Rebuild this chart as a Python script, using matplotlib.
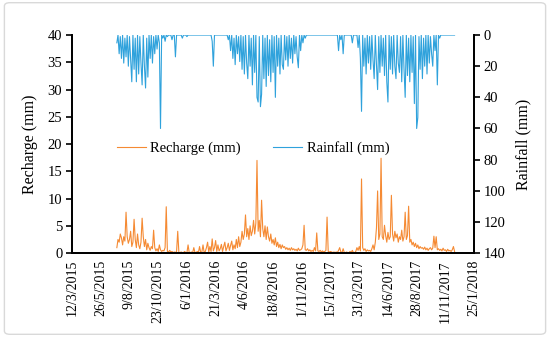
import matplotlib
matplotlib.use("Agg")
import matplotlib.pyplot as plt
from matplotlib.patches import FancyBboxPatch
import pandas as pd

# ---- data (3-day sampling from 7/7/2015) ----
series_start = "2015-07-07"
series_step_days = 3

rainfall = [
    5, 0, 12, 1, 15, 0, 18, 2, 14, 0,
    20, 1, 16, 30, 0, 22, 2, 30, 0, 25,
    1, 18, 32, 0, 20, 34, 2, 27, 0, 15,
    0, 18, 1, 12, 0, 9, 0, 5, 60, 0,
    2, 0, 4, 0, 1, 0, 0, 0, 3, 0,
    0, 14, 0, 0, 0, 0, 0, 2, 0, 0,
    0, 1, 0, 0, 0, 0, 0, 0, 0, 0,
    0, 0, 0, 0, 0, 0, 0, 0, 0, 0,
    0, 0, 0, 4, 20, 0, 0, 0, 0, 0,
    0, 0, 0, 0, 0, 0, 0, 3, 0, 10,
    0, 15, 2, 19, 0, 12, 1, 17, 0, 22,
    1, 25, 0, 18, 28, 0, 20, 2, 32, 0,
    24, 0, 40, 43, 1, 46, 38, 0, 28, 2,
    33, 0, 26, 3, 30, 0, 24, 1, 40, 0,
    20, 2, 25, 0, 19, 22, 0, 16, 1, 20,
    0, 15, 2, 18, 0, 12, 1, 14, 21, 0,
    10, 0, 5, 0, 2, 0, 0, 0, 0, 0,
    0, 0, 0, 0, 0, 0, 0, 0, 0, 0,
    0, 0, 0, 0, 0, 0, 0, 0, 0, 0,
    0, 0, 0, 10, 0, 3, 0, 12, 0, 0,
    0, 0, 0, 0, 0, 5, 0, 0, 0, 0,
    8, 0, 15, 49, 0, 20, 2, 25, 0, 18,
    1, 22, 0, 16, 28, 0, 19, 35, 1, 24,
    0, 20, 2, 26, 0, 30, 43, 0, 22, 1,
    25, 0, 20, 28, 0, 18, 24, 1, 30, 0,
    22, 40, 0, 26, 2, 30, 0, 24, 1, 44,
    0, 60, 53, 1, 22, 0, 28, 2, 20, 0,
    25, 0, 18, 1, 12, 20, 0, 10, 0, 32,
    0, 2, 0, 0, 0, 0, 0, 0, 0, 0,
    0, 0, 0, 0, 0,
]

recharge = [
    1.0, 2.5, 2.0, 3.5, 2.8, 1.5, 3.0, 2.2, 7.5, 3.0,
    1.8, 2.5, 4.0, 1.2, 2.0, 6.2, 2.5, 1.0, 3.5, 1.5,
    0.8, 2.0, 6.4, 3.0, 1.2, 2.5, 0.6, 1.8, 1.0, 0.5,
    1.2, 0.8, 4.2, 1.0, 0.4, 0.8, 0.3, 1.5, 0.6, 0.3,
    0.5, 0.4, 1.0, 8.5, 0.3, 0.2, 0.5, 0.2, 0.3, 0.1,
    0.2, 0.1, 0.3, 4.0, 0.1, 0.1, 0.2, 0.1, 0.1, 0.3,
    0.1, 0.1, 1.5, 0.1, 0.1, 0.2, 0.1, 1.0, 0.1, 0.1,
    0.3, 0.1, 1.2, 0.1, 0.2, 1.5, 0.1, 0.3, 1.0, 2.0,
    0.2, 1.2, 0.3, 2.6, 0.4, 1.0, 2.3, 0.3, 1.5, 0.4,
    0.8, 1.6, 0.3, 1.2, 2.0, 0.4, 1.0, 1.8, 0.5, 1.4,
    2.2, 0.6, 1.5, 0.8, 2.5, 1.0, 3.0, 1.2, 2.0, 4.0,
    2.5, 3.5, 7.0, 3.0, 4.5, 2.5, 5.0, 3.2, 4.0, 6.0,
    3.5, 5.5, 17.0, 4.0, 6.0, 3.0, 9.7, 4.5, 3.0, 5.0,
    2.5, 4.8, 3.0, 2.2, 3.5, 1.8, 2.5, 1.5, 2.8, 1.2,
    2.0, 1.0, 1.6, 0.8, 1.5, 1.0, 1.2, 0.7, 1.0, 0.6,
    0.9, 0.5, 1.0, 0.6, 0.8, 0.5, 0.7, 0.4, 0.9, 0.5,
    0.6, 0.8, 1.5, 5.1, 0.6, 0.5, 0.8, 0.4, 0.6, 0.3,
    0.5, 0.3, 1.0, 0.4, 3.7, 0.4, 0.3, 0.5, 0.2, 0.4,
    0.2, 0.3, 0.5, 6.6, 0.3, 0.2, 0.3, 0.2, 0.1, 0.2,
    0.1, 0.2, 0.1, 0.5, 1.0, 0.2, 0.1, 0.8, 0.1, 0.1,
    0.2, 0.1, 0.1, 0.3, 0.1, 0.5, 0.1, 0.1, 0.3, 1.0,
    0.5, 1.2, 0.4, 13.6, 1.0, 0.5, 0.8, 0.3, 0.6, 0.4,
    0.5, 0.3, 0.8, 1.5, 0.6, 2.0, 4.6, 11.4, 2.5, 3.5,
    17.4, 3.0, 2.5, 5.1, 3.2, 2.0, 3.8, 2.5, 3.0, 10.6,
    3.5, 2.2, 4.0, 2.8, 3.5, 2.0, 3.0, 2.5, 4.2, 2.2,
    3.0, 7.5, 2.5, 3.2, 8.6, 2.0, 2.5, 1.5, 2.0, 1.2,
    1.8, 1.0, 1.5, 0.8, 1.2, 0.9, 1.0, 0.7, 1.1, 0.6,
    0.9, 0.5, 0.8, 1.0, 0.6, 0.9, 3.1, 1.0, 3.0, 0.6,
    0.8, 0.5, 0.7, 0.4, 0.9, 0.5, 0.6, 0.3, 0.7, 0.4,
    0.5, 0.3, 0.6, 1.2, 0.3,
]

x_min = "2015-03-12"
x_max = "2018-01-25"
x_tick_step_days = 75
recharge_ticks = [0, 5, 10, 15, 20, 25, 30, 35, 40]
rain_ticks = [0, 20, 40, 60, 80, 100, 120, 140]

dates = pd.date_range(series_start, periods=len(rainfall), freq=f"{series_step_days}D")

plt.rcParams['font.family'] = ['Liberation Serif', 'DejaVu Serif']

fig = plt.figure(figsize=(5.5, 3.37), dpi=100)
border = FancyBboxPatch((0.008, 0.008), 0.984, 0.984,
                        boxstyle="round,pad=0,rounding_size=0.01",
                        transform=fig.transFigure, facecolor='white',
                        edgecolor='#d9d9d9', linewidth=1.0, zorder=-10)
fig.patches.append(border)

ax = fig.add_axes([0.131, 0.249, 0.731, 0.647])
ax2 = ax.twinx()

orange = '#f58a33'
blue = '#2fa2dc'

l1, = ax.plot(dates, recharge, color=orange, lw=0.8, label='Recharge (mm)')
l2, = ax2.plot(dates, rainfall, color=blue, lw=0.8, label='Rainfall (mm)')

xmin = pd.Timestamp(x_min)
xmax = pd.Timestamp(x_max)
ax.set_xlim(xmin, xmax)
ticks = pd.date_range(xmin, xmax, freq=f"{x_tick_step_days}D")
ax.set_xticks(ticks)
ax.set_xticklabels([f"{d.day}/{d.month}/{d.year}" for d in ticks], rotation=90, fontsize=10)

ax.set_ylim(0, 40)
ax.set_yticks(recharge_ticks)
ax2.set_ylim(140, 0)
ax2.set_yticks(rain_ticks)

for a in (ax, ax2):
    a.spines['top'].set_visible(False)
    a.spines['left'].set_linewidth(1.3)
    a.spines['right'].set_linewidth(1.3)
    a.spines['bottom'].set_linewidth(1.3)
    a.tick_params(axis='y', labelsize=10.5, length=4, width=1.2, direction='out', pad=3)
ax.tick_params(axis='x', length=0, pad=5)

ax.set_ylabel('Recharge (mm)', fontsize=11.5, labelpad=7)
ax2.set_ylabel('Rainfall (mm)', fontsize=11.5, labelpad=7)

ax.legend([l1, l2], ['Recharge (mm)', 'Rainfall (mm)'], ncol=2, frameon=False,
          loc='center', bbox_to_anchor=(0.45, 0.48), fontsize=10.5,
          handlelength=2.0, columnspacing=2.2, handletextpad=0.3)

fig.savefig('out.png', dpi=100)
